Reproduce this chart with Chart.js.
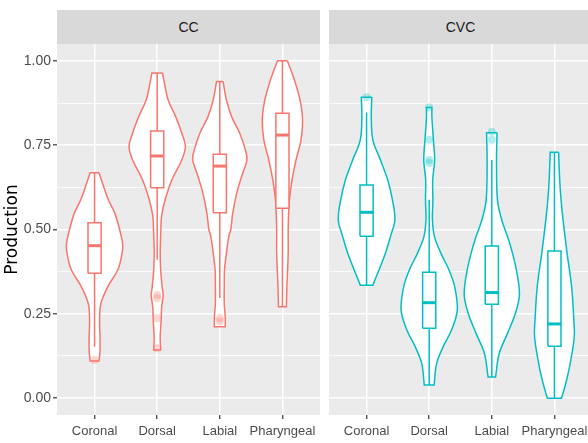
<!DOCTYPE html>
<html>
<head>
<meta charset="utf-8">
<script src="https://cdn.jsdelivr.net/npm/chart.js@4.4.0/dist/chart.umd.min.js"></script>
<style>
html, body { margin: 0; padding: 0; background: #fff; overflow: hidden; }
#wrap { position: relative; width: 588px; height: 443px; overflow: hidden; }
.strip {
    position: absolute; top: 10px; height: 34px; background: #D9D9D9; color: #1A1A1A;
    font: 14px 'Liberation Sans Narrow', 'Liberation Sans', Arial, sans-serif;
    display: flex; align-items: center; justify-content: center;
}
canvas { position: absolute; top: 44px; }
</style>
</head>
<body>
<div id="wrap">
    <div class="strip" style="left:57px;width:263px">CC</div>
    <div class="strip" style="left:329px;width:263px">CVC</div>
    <canvas id="ccChart" width="320" height="399" style="left:0"></canvas>
    <canvas id="cvcChart" width="263" height="399" style="left:329px"></canvas>
</div>
<script>
// ------------------------------------------------------------------
// DATA
// ------------------------------------------------------------------
const CATEGORIES = ["Coronal", "Dorsal", "Labial", "Pharyngeal"];
const Y_TICKS = [0, 0.25, 0.5, 0.75, 1.0];

// violin outlines: [production, half width]
const CC_DENSITY = [
    [[0.668,0.071],[0.63,0.14],[0.588,0.22],[0.55,0.32],[0.50,0.40],[0.454,0.45],[0.42,0.43],
     [0.38,0.37],[0.33,0.21],[0.28,0.10],[0.23,0.08],[0.18,0.087],[0.14,0.087],[0.11,0.07]],
    [[0.964,0.084],[0.93,0.12],[0.884,0.175],[0.834,0.297],[0.786,0.392],[0.745,0.45],[0.706,0.392],
     [0.647,0.233],[0.588,0.127],[0.54,0.07],[0.50,0.059],[0.43,0.048],[0.38,0.056],[0.33,0.079],
     [0.305,0.095],[0.27,0.071],[0.23,0.063],[0.18,0.048],[0.143,0.056]],
    [[0.939,0.052],[0.884,0.106],[0.834,0.19],[0.786,0.317],[0.736,0.408],[0.706,0.433],[0.667,0.365],
     [0.608,0.27],[0.548,0.206],[0.50,0.175],[0.479,0.143],[0.43,0.106],[0.38,0.075],[0.33,0.071],
     [0.28,0.071],[0.24,0.087],[0.212,0.087]],
    [[1.0,0.079],[0.944,0.19],[0.884,0.281],[0.825,0.322],[0.766,0.297],[0.706,0.217],[0.647,0.154],
     [0.588,0.111],[0.55,0.10],[0.50,0.092],[0.43,0.092],[0.33,0.071],[0.271,0.063]]
];
const CVC_DENSITY = [
    [[0.892,0.084],[0.835,0.075],[0.766,0.10],[0.706,0.222],[0.647,0.338],[0.588,0.413],[0.528,0.452],
     [0.479,0.381],[0.43,0.302],[0.38,0.198],[0.335,0.10]],
    [[0.862,0.044],[0.835,0.043],[0.766,0.067],[0.706,0.087],[0.647,0.056],[0.588,0.059],[0.528,0.052],
     [0.479,0.084],[0.43,0.186],[0.38,0.317],[0.33,0.408],[0.261,0.449],[0.202,0.357],[0.152,0.222],
     [0.103,0.119],[0.039,0.079]],
    [[0.787,0.084],[0.706,0.075],[0.588,0.09],[0.528,0.159],[0.479,0.251],[0.43,0.33],[0.371,0.402],
     [0.306,0.441],[0.251,0.376],[0.192,0.251],[0.133,0.119],[0.063,0.06]],
    [[0.729,0.067],[0.647,0.084],[0.588,0.106],[0.528,0.138],[0.43,0.202],[0.33,0.275],[0.231,0.31],
     [0.182,0.317],[0.113,0.262],[0.053,0.194],[0.0,0.114]]
];

// box plots
const CC_Q1  = [0.37, 0.624, 0.55, 0.563];
const CC_MED = [0.452, 0.718, 0.688, 0.78];
const CC_Q3  = [0.52, 0.792, 0.723, 0.845];
const CC_LO  = [0.152, 0.41, 0.297, 0.271];
const CC_HI  = [0.668, 0.964, 0.939, 1.0];
const CC_OUT = [[0.113], [0.306, 0.296, 0.237, 0.148], [0.237, 0.228], []];

const CVC_Q1  = [0.48, 0.207, 0.278, 0.154];
const CVC_MED = [0.551, 0.283, 0.313, 0.22];
const CVC_Q3  = [0.632, 0.373, 0.451, 0.436];
const CVC_LO  = [0.335, 0.039, 0.063, 0.0];
const CVC_HI  = [0.847, 0.588, 0.706, 0.729];
const CVC_OUT = [[0.892], [0.862, 0.766, 0.706, 0.697], [0.79, 0.766], []];

// ------------------------------------------------------------------
const FONT = "'Liberation Sans Narrow', 'Liberation Sans', Arial, sans-serif";
const BOX_HALF = 0.105;
const Y_MIN = -0.05, Y_MAX = 1.05;
const NONE = "rgba(0,0,0,0)";
Chart.defaults.font.family = FONT;

const panelBg = {
    id: "panelBg",
    beforeDraw(chart) {
        const { ctx, chartArea: a } = chart;
        ctx.save();
        ctx.fillStyle = "#EBEBEB";
        ctx.fillRect(a.left, a.top, a.right - a.left, a.bottom - a.top);
        ctx.restore();
    }
};

function line(points, color, width, order, fill) {
    return {
        data: points,
        borderColor: color,
        backgroundColor: "#ffffff",
        borderWidth: width,
        fill: fill ? "shape" : false,
        pointRadius: 0,
        tension: 0,
        order: order
    };
}

// outline of one violin: right side down, left side up; the doubled end
// points keep the trimmed top and bottom edges flat under the spline
function violinPath(prof, c) {
    const right = prof.map(([y, w]) => ({ x: c + w, y }));
    const left = prof.slice().reverse().map(([y, w]) => ({ x: c - w, y }));
    const dup = side => [side[0]].concat(side, [side[side.length - 1]]);
    const pts = dup(right).concat(dup(left));
    pts.push(right[0]);
    return pts;
}

function buildDatasets(density, q1, med, q3, lo, hi, out, color, faded) {
    const sets = [];
    density.forEach((prof, i) => {
        const c = i + 1;
        const v = line(violinPath(prof, c), color, 1.5, 5, true);
        v.tension = 0.35;
        sets.push(v);

        sets.push(line([
            { x: c - BOX_HALF, y: q1[i] }, { x: c + BOX_HALF, y: q1[i] },
            { x: c + BOX_HALF, y: q3[i] }, { x: c - BOX_HALF, y: q3[i] },
            { x: c - BOX_HALF, y: q1[i] }
        ], color, 1.5, 3, true));
        sets.push(line([{ x: c, y: q3[i] }, { x: c, y: hi[i] }], color, 1.5, 2, false));
        sets.push(line([{ x: c, y: q1[i] }, { x: c, y: lo[i] }], color, 1.5, 2, false));
        sets.push(line([{ x: c - BOX_HALF, y: med[i] }, { x: c + BOX_HALF, y: med[i] }], color, 3, 1, false));

        sets.push({
            data: out[i].map(y => ({ x: c, y })),
            showLine: false,
            pointRadius: 4,
            pointBorderWidth: 0,
            pointBackgroundColor: faded,
            order: 0
        });
    });
    return sets;
}

const isMajorY = v => Y_TICKS.some(t => Math.abs(t - v) < 1e-6);

function makeScales(showY) {
    return {
        x: {
            type: "linear",
            min: 0.4,
            max: 4.6,
            afterBuildTicks: s => { s.ticks = CATEGORIES.map((_, i) => ({ value: i + 1 })); },
            afterFit: s => {
                s.height = 28;
                s.paddingLeft = 0;
                s.paddingRight = 0;
            },
            ticks: {
                color: "#4D4D4D",
                font: { size: 13 },
                padding: 5,
                autoSkip: false,
                maxRotation: 0,
                callback: v => CATEGORIES[Math.round(v) - 1]
            },
            grid: { color: "#ffffff", lineWidth: 1.5, tickColor: "#333333", tickLength: 4, tickWidth: 1.2 },
            border: { display: false }
        },
        y: {
            type: "linear",
            min: Y_MIN,
            max: Y_MAX,
            afterBuildTicks: s => {
                const t = [];
                for (let k = 0; k <= 8; k++) t.push({ value: k * 0.125 });
                s.ticks = t;
            },
            afterFit: s => {
                s.width = showY ? 57 : 0;
                s.paddingTop = 0;
                s.paddingBottom = 0;
            },
            ticks: {
                display: showY,
                color: "#4D4D4D",
                font: { size: 14 },
                padding: 2,
                autoSkip: false,
                callback: v => (isMajorY(v) ? v.toFixed(2) : "")
            },
            grid: {
                color: "#ffffff",
                lineWidth: c => (isMajorY(c.tick.value) ? 1.6 : 0.8),
                drawTicks: showY,
                tickLength: 4,
                tickWidth: 1.2,
                tickColor: c => (isMajorY(c.tick.value) ? "#333333" : NONE)
            },
            border: { display: false },
            title: {
                display: showY,
                text: "Production",
                color: "#000000",
                font: { family: "'DejaVu Sans', sans-serif", size: 17 },
                padding: { top: 2, bottom: 0 }
            }
        }
    };
}

function drawFacet(id, datasets, showY) {
    return new Chart(document.getElementById(id).getContext("2d"), {
        type: "line",
        data: { datasets },
        options: {
            responsive: false,
            animation: false,
            layout: { padding: 0, autoPadding: false },
            plugins: { legend: { display: false }, tooltip: { enabled: false } },
            scales: makeScales(showY)
        },
        plugins: [panelBg]
    });
}

drawFacet("ccChart",
    buildDatasets(CC_DENSITY, CC_Q1, CC_MED, CC_Q3, CC_LO, CC_HI, CC_OUT, "#F8766D", "rgba(248,118,109,0.3)"),
    true);
drawFacet("cvcChart",
    buildDatasets(CVC_DENSITY, CVC_Q1, CVC_MED, CVC_Q3, CVC_LO, CVC_HI, CVC_OUT, "#00BFC4", "rgba(0,191,196,0.3)"),
    false);
</script>
</body>
</html>
